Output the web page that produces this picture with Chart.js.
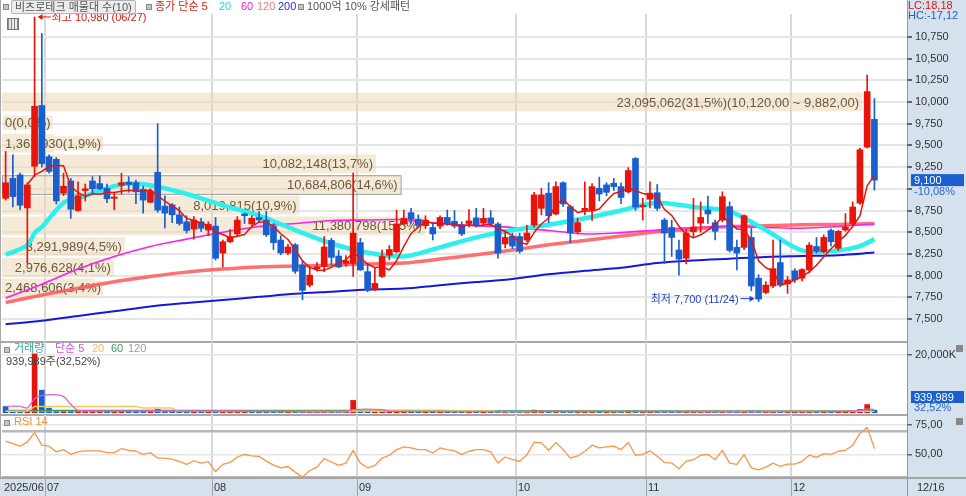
<!DOCTYPE html>
<html lang="ko">
<head>
<meta charset="utf-8">
<title>비츠로테크 일봉</title>
<script src="https://cdn.jsdelivr.net/npm/chart.js@4.4.1/dist/chart.umd.min.js"></script>
<style>
  html, body { margin: 0; padding: 0; background: #fff; }
  body { width: 966px; height: 496px; position: relative; overflow: hidden;
         font-family: "Liberation Sans", "Noto Sans CJK KR", sans-serif; font-size: 11px; }
  canvas { position: absolute; left: 0; }
  .lbl { position: absolute; white-space: nowrap; line-height: 13px; font-size: 11px; }
  .sq { position: absolute; width: 4px; height: 4px; border: 1px solid #8a8a8a; background: #c4c4c4; }
</style>
</head>
<body>
<canvas id="priceChart" width="966" height="341" style="top:0"></canvas>
<canvas id="volChart" width="966" height="73" style="top:341px"></canvas>
<canvas id="rsiChart" width="966" height="82" style="top:414px"></canvas>

<div class="sq" style="left:3px;top:4px"></div>
<div class="lbl" style="left:11px;top:0;height:12px;line-height:12px;padding:0 3px;background:#ececec;border:1px solid #b4b4b4;border-radius:2px;color:#555">비츠로테크 매물대 수(10)</div>
<div class="sq" style="left:146px;top:4px"></div>
<div class="lbl" style="left:155px;top:0;color:#ee1a12">종가 단순 5</div>
<div class="lbl" style="left:219px;top:0;color:#2ad6e0">20</div>
<div class="lbl" style="left:241px;top:0;color:#f01ee0">60</div>
<div class="lbl" style="left:257px;top:0;color:#f77a7a">120</div>
<div class="lbl" style="left:278px;top:0;color:#2a2ae6">200</div>
<div class="sq" style="left:298px;top:4px"></div>
<div class="lbl" style="left:307px;top:0;color:#555">1000억 10% 강세패턴</div>
<div style="position:absolute;left:7px;top:18px;width:10px;height:10px;border:1px solid #777;background:repeating-linear-gradient(90deg,#888 0 1px,#e8e8e8 1px 3px)"></div>

<div class="sq" style="left:4px;top:347px"></div>
<div class="lbl" style="left:14px;top:342px;color:#3aa5a5">거래량</div>
<div class="lbl" style="left:55px;top:342px;color:#e050e0">단순 5</div>
<div class="lbl" style="left:92px;top:342px;color:#f0c050">20</div>
<div class="lbl" style="left:111px;top:342px;color:#3c9a5c">60</div>
<div class="lbl" style="left:128px;top:342px;color:#9a9a9a">120</div>
<div class="lbl" id="volInfo" style="left:6px;top:355px;color:#444"></div>
<div class="sq" style="left:956px;top:345px;width:5px;height:5px;background:#888"></div>

<div class="sq" style="left:4px;top:420px"></div>
<div class="lbl" style="left:14px;top:415px;color:#ff8a3a">RSI 14</div>
<div class="sq" style="left:956px;top:418px;width:5px;height:5px;background:#888"></div>

<div class="lbl" id="lcText" style="left:908px;top:-1px;color:#e8140a"></div>
<div class="lbl" id="hcText" style="left:908px;top:9px;color:#1a5fd0"></div>

<script>
// trading days shown in the chart
const junDays = [23, 24, 25, 26, 27, 30];
const julDays = [1, 2, 3, 4, 7, 8, 9, 10, 11, 14, 15, 16, 17, 18, 21, 22, 23, 24, 25, 28, 29, 30, 31];
const augDays = [1, 4, 5, 6, 7, 8, 11, 12, 13, 14, 18, 19, 20, 21, 22, 25, 26, 27, 28, 29];
const sepDays = [1, 2, 3, 4, 5, 8, 9, 10, 11, 12, 15, 16, 17, 18, 19, 22, 23, 24, 25, 26, 29, 30];
const octDays = [1, 2, 10, 13, 14, 15, 16, 17, 20, 21, 22, 23, 24, 27, 28, 29, 30, 31];
const novDays = [3, 4, 5, 6, 7, 10, 11, 12, 13, 14, 17, 18, 19, 20, 21, 24, 25, 26, 27, 28];
const decDays = [1, 2, 3, 4, 5, 8, 9, 10, 11, 12, 15, 16];

const opens = [
  8890, 9120, 9160, 8780, 9260, 9960, 9370, 9340, 8950, 9090,
  8750, 8980, 9090, 9060, 9005, 8890, 9040, 9075, 9070, 8995,
  8845, 9190, 8800, 8815, 8700, 8620, 8535, 8620, 8525, 8570,
  8260, 8390, 8480, 8710, 8595, 8670, 8640, 8565, 8410, 8260,
  8355, 8120, 7890, 8080, 8105, 8405, 8225, 8140, 8140, 8380,
  8045, 7840, 7990, 8235, 8275, 8595, 8725, 8650, 8575, 8555,
  8570, 8670, 8625, 8585, 8600, 8665, 8605, 8665, 8595, 8365,
  8455, 8450, 8410, 8585, 8775, 8950, 8710, 9070, 8795, 8505,
  8750, 8755, 9005, 9045, 9065, 9025, 8965, 9350, 8795, 8880,
  8955, 8640, 8555, 8295, 8200, 8505, 8605, 8755, 8610, 8640,
  8795, 8325, 8325, 8440, 7970, 7805, 7880, 8150, 7905, 8055,
  7970, 8065, 8335, 8275, 8520, 8315, 8525, 8600, 8835, 9480,
  9800];
const highs = [
  9430, 9390, 9180, 9070, 10980, 10790, 9390, 9360, 9180, 9120,
  9080, 9055, 9140, 9150, 9055, 8950, 9180, 9140, 9100, 9030,
  9000, 9750, 8920, 8830, 8790, 8690, 8680, 8660, 8620, 8670,
  8410, 8530, 8680, 8720, 8690, 8740, 8740, 8600, 8460, 8360,
  8370, 8170, 8105, 8150, 8450, 8430, 8290, 8230, 9180, 8430,
  8140, 8085, 8295, 8345, 8755, 8755, 8775, 8700, 8690, 8600,
  8690, 8755, 8750, 8620, 8760, 8775, 8775, 8750, 8610, 8520,
  8490, 8490, 8580, 8960, 9005, 9070, 9080, 9080, 8810, 8660,
  9080, 9060, 9135, 9070, 9120, 9070, 9245, 9360, 8890, 9080,
  9050, 8660, 8640, 8410, 8530, 8890, 8850, 8915, 8640, 8965,
  8850, 8410, 8700, 8545, 8010, 7930, 8410, 8410, 7990, 8080,
  8080, 8380, 8440, 8470, 8540, 8520, 8715, 8850, 9470, 10310,
  10040];
const lows = [
  8870, 8790, 8760, 8140, 9140, 9250, 9180, 8825, 8920, 8660,
  8740, 8860, 8950, 8990, 8840, 8760, 8940, 8960, 8830, 8720,
  8840, 8730, 8550, 8610, 8580, 8490, 8420, 8510, 8460, 8180,
  8100, 8380, 8460, 8600, 8580, 8620, 8450, 8300, 8240, 8240,
  8025, 7720, 7870, 8050, 8045, 8120, 8090, 8110, 7990, 8060,
  7815, 7830, 7980, 8180, 8260, 8590, 8600, 8555, 8540, 8410,
  8540, 8580, 8550, 8460, 8560, 8560, 8580, 8570, 8200, 8320,
  8310, 8260, 8390, 8560, 8700, 8610, 8700, 8795, 8380, 8480,
  8700, 8635, 8860, 8920, 8980, 8830, 8950, 8750, 8640, 8780,
  8750, 8140, 8220, 8005, 8135, 8440, 8500, 8600, 8410, 8620,
  8270, 8065, 8300, 7825, 7700, 7790, 7860, 7870, 7795, 7920,
  7940, 8030, 8260, 8260, 8340, 8290, 8510, 8580, 8820, 9470,
  8985];
const closes = [
  9070, 8910, 8810, 9045, 9950, 9290, 9200, 8860, 9030, 8765,
  8920, 9000, 9000, 9000, 8885, 8905, 9070, 9050, 8965, 8870,
  8975, 8755, 8720, 8700, 8600, 8520, 8640, 8545, 8590, 8200,
  8390, 8450, 8640, 8690, 8660, 8640, 8470, 8380, 8260, 8330,
  8050, 7830, 8005, 8100, 8330, 8210, 8100, 8170, 8490, 8065,
  7830, 7910, 8220, 8300, 8595, 8660, 8650, 8580, 8640, 8480,
  8670, 8600, 8570, 8480, 8630, 8580, 8660, 8600, 8260, 8440,
  8340, 8280, 8490, 8930, 8930, 8690, 9025, 8825, 8490, 8610,
  8775, 9025, 8940, 8960, 9025, 8900, 9210, 8790, 8810, 8950,
  8775, 8490, 8440, 8190, 8490, 8560, 8670, 8710, 8510, 8910,
  8290, 8260, 8690, 7880, 7730, 7890, 8080, 7890, 7950, 7950,
  8070, 8350, 8280, 8440, 8390, 8510, 8560, 8790, 9450, 10120,
  9100];
const volumes = [
  2200000, 650000, 520000, 880000, 20200000, 7800000, 1650000, 820000, 700000, 900000,
  640000, 560000, 610000, 520000, 700000, 480000, 650000, 560000, 620000, 720000,
  560000, 1250000, 780000, 640000, 690000, 720000, 650000, 540000, 500000, 880000,
  700000, 560000, 620000, 480000, 450000, 430000, 460000, 420000, 400000, 330000,
  520000, 560000, 380000, 300000, 480000, 380000, 330000, 290000, 4300000, 900000,
  620000, 420000, 560000, 400000, 700000, 520000, 440000, 380000, 360000, 410000,
  380000, 400000, 320000, 350000, 420000, 360000, 340000, 300000, 640000, 380000,
  330000, 360000, 340000, 980000, 700000, 620000, 650000, 520000, 560000, 380000,
  520000, 600000, 440000, 360000, 320000, 350000, 680000, 720000, 400000, 420000,
  380000, 620000, 480000, 560000, 520000, 560000, 440000, 420000, 380000, 560000,
  600000, 440000, 560000, 720000, 640000, 380000, 520000, 460000, 320000, 300000,
  280000, 520000, 340000, 420000, 360000, 400000, 380000, 600000, 1200000, 2890500,
  939989];
const prevClose0 = 9180;

// 종가 단순 5
const ma5 = [
  null, null, null, 9050, 9157, 9201, 9259, 9269, 9266, 9029,
  8955, 8915, 8943, 8937, 8961, 8958, 8972, 8982, 8975, 8972,
  8986, 8923, 8857, 8804, 8750, 8659, 8636, 8601, 8579, 8499,
  8473, 8435, 8454, 8474, 8566, 8616, 8620, 8568, 8482, 8416,
  8298, 8170, 8095, 8063, 8063, 8095, 8149, 8182, 8260, 8207,
  8131, 8093, 8103, 8065, 8171, 8337, 8485, 8557, 8625, 8602,
  8604, 8594, 8592, 8560, 8590, 8572, 8584, 8590, 8546, 8508,
  8460, 8384, 8362, 8496, 8594, 8664, 8813, 8880, 8792, 8728,
  8745, 8745, 8768, 8862, 8945, 8970, 9007, 8977, 8947, 8932,
  8907, 8763, 8693, 8569, 8477, 8434, 8470, 8524, 8588, 8672,
  8618, 8536, 8532, 8406, 8170, 8090, 8054, 7894, 7908, 7952,
  7988, 8042, 8120, 8218, 8306, 8394, 8464, 8566, 8690, 9036,
  9154];
// longer averages at [day index, price]
const ma20Pts = [[0, 8240], [3, 8350], [4, 8490], [5, 8560], [8, 8840], [10, 8890], [15, 9030], [17, 9060],
  [20, 9040], [25, 8940], [30, 8810], [35, 8690], [40, 8525], [45, 8370], [50, 8265], [55, 8220],
  [60, 8325], [65, 8440], [70, 8525], [75, 8585], [80, 8660], [85, 8750], [90, 8840], [95, 8790],
  [100, 8740], [105, 8525], [110, 8290], [115, 8290], [118, 8340], [120, 8420]];
const ma60Pts = [[0, 7740], [5, 7900], [10, 8075], [15, 8220], [20, 8335], [25, 8420], [30, 8500],
  [35, 8565], [40, 8600], [45, 8635], [50, 8640], [55, 8645], [60, 8600], [65, 8575], [70, 8555],
  [75, 8520], [80, 8480], [85, 8495], [90, 8525], [95, 8555], [100, 8565], [105, 8555], [110, 8545],
  [115, 8565], [120, 8595]];
const ma120Pts = [[0, 7690], [5, 7775], [10, 7855], [15, 7930], [20, 7990], [25, 8040], [30, 8075],
  [35, 8100], [40, 8110], [45, 8120], [50, 8135], [55, 8145], [60, 8190], [65, 8240], [70, 8295],
  [75, 8355], [80, 8405], [85, 8455], [90, 8505], [95, 8535], [100, 8565], [105, 8575], [110, 8585],
  [115, 8590], [120, 8600]];
const ma200Pts = [[0, 7440], [5, 7480], [10, 7535], [15, 7590], [20, 7645], [25, 7685], [30, 7720],
  [35, 7755], [40, 7790], [45, 7815], [50, 7840], [55, 7850], [60, 7890], [65, 7925], [70, 7960],
  [75, 8015], [80, 8055], [85, 8090], [90, 8145], [95, 8175], [100, 8195], [105, 8215], [110, 8225],
  [115, 8235], [120, 8265]];

// volume averages
const volMa5Pts = [[0, 2300000], [2, 2300000], [3, 1700000], [4, 4900000], [5, 6000000], [7, 6200000],
  [8, 5600000], [9, 3000000], [10, 900000], [20, 700000], [30, 650000], [40, 450000], [47, 400000],
  [48, 1200000], [52, 1200000], [53, 550000], [72, 420000], [73, 560000], [90, 450000], [110, 420000],
  [117, 650000], [119, 1300000], [120, 1200000]];
const volMa20Pts = [[0, 600000], [3, 650000], [4, 2200000], [18, 2200000], [19, 1700000], [23, 1700000],
  [24, 550000], [47, 500000], [48, 700000], [67, 700000], [68, 480000], [120, 560000]];
const volMa60Pts = [[0, 900000], [60, 900000], [64, 760000], [120, 700000]];
const volMa120Pts = [[0, 650000], [120, 600000]];

const rsi = [
  61.2, 59.2, 56.9, 60.6, 68.4, 57.8, 56.9, 52.0, 54.0, 50.0,
  52.0, 52.9, 52.9, 52.9, 51.4, 51.4, 54.9, 53.4, 52.6, 50.0,
  51.4, 46.8, 46.8, 45.7, 44.0, 41.4, 44.5, 42.5, 43.7, 35.3,
  41.4, 43.1, 47.7, 50.0, 48.6, 48.3, 44.2, 40.8, 38.5, 39.6,
  34.8, 30.5, 36.2, 39.1, 46.3, 43.4, 40.5, 42.5, 53.4, 42.5,
  38.5, 40.5, 46.8, 49.2, 54.0, 56.3, 55.4, 54.0, 54.0, 51.1,
  55.4, 54.0, 52.9, 50.0, 52.6, 54.0, 54.0, 52.0, 42.5, 47.7,
  45.7, 44.0, 49.7, 60.1, 60.0, 53.4, 60.0, 54.0, 46.8, 48.6,
  52.6, 57.8, 55.4, 56.3, 56.9, 54.0, 60.1, 49.2, 50.0, 52.9,
  48.3, 43.1, 42.5, 37.6, 44.2, 45.4, 49.2, 50.0, 45.4, 53.4,
  42.5, 41.4, 49.7, 38.5, 36.8, 39.1, 42.5, 39.6, 41.7, 41.7,
  44.0, 49.2, 47.4, 50.6, 50.0, 52.6, 53.4, 57.8, 67.8, 73.0,
  54.9];

// 매물대 (10 price bands)
const bandPrices = [7740, 7978, 8216, 8454, 8692, 8930, 9168, 9406, 9644, 9882, 10120];
const bandVolumes = [2468606, 2976628, 3291989, 11380798, 8019815, 10684806, 10082148, 1362930, 0, 23095062];
const bandPcts = [3.4, 4.1, 4.5, 15.5, 10.9, 14.6, 13.7, 1.9, 0.0, 31.5];

const priceTicks = [7500, 7750, 8000, 8250, 8500, 8750, 9000, 9250, 9500, 9750, 10000, 10250, 10500, 10750];
const volTicks = [20000000];
const rsiTicks = [30, 50, 70, 75];

const dates = [];
[['2025/06', junDays], ['2025/07', julDays], ['2025/08', augDays], ['2025/09', sepDays],
 ['2025/10', octDays], ['2025/11', novDays], ['2025/12', decDays]].forEach(([m, days]) => {
  days.forEach(d => dates.push(m + '/' + String(d).padStart(2, '0')));
});
const labels = dates.concat(['', '', '', '']);

const UP = '#e8140a', DOWN = '#1a5fd0', STRIP = '#d6e1ee';
const FONT = '"Liberation Sans", "Noto Sans CJK KR", sans-serif';
Chart.defaults.font.family = FONT;
Chart.defaults.font.size = 11;
Chart.defaults.color = '#333';
Chart.defaults.elements.point.radius = 0;
Chart.defaults.elements.line.borderJoinStyle = 'round';

const lastClose = closes[closes.length - 1];
const prevClose = closes[closes.length - 2];
const lastVol = volumes[volumes.length - 1];
const prevVol = volumes[volumes.length - 2];
const comma = v => v.toFixed(2).replace('.', ',');
const candleColors = opens.map((o, i) => closes[i] >= o ? UP : DOWN);
const volColors = closes.map((c, i) => c >= (i ? closes[i - 1] : prevClose0) ? UP : DOWN);
const pts = arr => arr.map(([i, v]) => ({x: dates[i], y: v}));

function isMonthStart(i) {
  return i > 0 && i < dates.length && dates[i].slice(0, 7) !== dates[i - 1].slice(0, 7);
}

function xScale() {
  return {
    type: 'category', labels, offset: true,
    ticks: {display: false, autoSkip: false},
    grid: {offset: true, drawTicks: false, lineWidth: 2,
      color: c => isMonthStart(c.index) ? '#d9d9d9' : 'rgba(0,0,0,0)'},
    border: {display: false}
  };
}

function fitRight(s) {
  s.width = 59;
  s.paddingTop = 0;
  s.paddingBottom = 0;
}

function frame(topLine) {
  return {
    id: 'frame',
    beforeDraw(chart) {
      const {ctx, chartArea: a, width, height} = chart;
      ctx.save();
      ctx.fillStyle = STRIP;
      ctx.fillRect(a.right, 0, width - a.right, height);
      ctx.fillStyle = '#8f99a6';
      ctx.fillRect(a.right, 0, 1, height);
      ctx.fillStyle = '#a8a8a8';
      ctx.fillRect(0, 0, 1, height);
      if (topLine) ctx.fillRect(0, 0, a.right, 2);
      ctx.restore();
    }
  };
}

// price panel
const bandPlugin = {
  id: 'bands',
  beforeDatasetsDraw(chart) {
    const {ctx, chartArea: a, scales: {y, xp}} = chart;
    const maxPct = Math.max(...bandPcts);
    ctx.save();
    ctx.beginPath();
    ctx.rect(a.left, a.top, a.right - a.left, a.bottom - a.top);
    ctx.clip();
    ctx.font = '13px ' + FONT;
    ctx.textBaseline = 'middle';
    for (let k = 0; k < bandVolumes.length; k++) {
      const yTop = y.getPixelForValue(bandPrices[k + 1]) + 1;
      const yBot = y.getPixelForValue(bandPrices[k]) - 1;
      const x0 = xp.getPixelForValue(0);
      const x1 = xp.getPixelForValue(bandPcts[k]);
      ctx.fillStyle = 'rgba(236,212,175,0.5)';
      ctx.fillRect(x0, yTop, x1 - x0, yBot - yTop);
      if (lastClose >= bandPrices[k] && lastClose < bandPrices[k + 1]) {
        ctx.strokeStyle = '#9c9c9c';
        ctx.lineWidth = 1;
        ctx.strokeRect(x0 + 0.5, yTop + 0.5, x1 - x0, yBot - yTop);
      }
      let txt = bandVolumes[k].toLocaleString('en-US') + '(' + bandPcts[k].toFixed(1).replace('.', ',') + '%)';
      if (bandPcts[k] === maxPct) {
        txt += '(' + bandPrices[k + 1].toLocaleString('en-US') + ',00 ~ ' + bandPrices[k].toLocaleString('en-US') + ',00)';
      }
      const w = ctx.measureText(txt).width;
      const tx = Math.max(x0 + 3, x1 - w - 3);
      const yc = (yTop + yBot) / 2;
      if (tx + w > x1) {
        ctx.fillStyle = 'rgba(236,212,175,0.5)';
        ctx.fillRect(Math.max(x1, tx - 2), yc - 7, tx + w + 2 - Math.max(x1, tx - 2), 14);
      }
      ctx.fillStyle = '#6b5a3c';
      ctx.fillText(txt, tx, yc + 1);
    }
    ctx.restore();
  },
  afterDraw(chart) {
    const {ctx, chartArea: a, scales: {x, y}} = chart;
    ctx.save();
    ctx.font = '11px ' + FONT;
    ctx.textBaseline = 'middle';
    // highest / lowest marks
    const hi = Math.max(...highs), hiIdx = highs.indexOf(hi);
    const lo = Math.min(...lows), loIdx = lows.indexOf(lo);
    const xh = x.getPixelForValue(hiIdx) + 3, yh = y.getPixelForValue(hi);
    ctx.fillStyle = ctx.strokeStyle = UP;
    ctx.lineWidth = 1;
    ctx.beginPath(); ctx.moveTo(xh + 2, yh); ctx.lineTo(xh + 13, yh); ctx.stroke();
    ctx.beginPath(); ctx.moveTo(xh, yh); ctx.lineTo(xh + 5, yh - 3); ctx.lineTo(xh + 5, yh + 3); ctx.fill();
    ctx.textAlign = 'left';
    ctx.fillText('최고 ' + hi.toLocaleString('en-US') + ' (' + dates[hiIdx].slice(5) + ')', xh + 14, yh + 1);
    const xl = x.getPixelForValue(loIdx) - 4, yl = y.getPixelForValue(lo) - 3;
    ctx.fillStyle = ctx.strokeStyle = '#1c3fe0';
    ctx.beginPath(); ctx.moveTo(xl - 14, yl); ctx.lineTo(xl - 2, yl); ctx.stroke();
    ctx.beginPath(); ctx.moveTo(xl, yl); ctx.lineTo(xl - 5, yl - 3); ctx.lineTo(xl - 5, yl + 3); ctx.fill();
    ctx.textAlign = 'right';
    ctx.fillText('최저 ' + lo.toLocaleString('en-US') + ' (' + dates[loIdx].slice(5) + ')', xl - 16, yl + 1);
    // current price marker
    const yc = y.getPixelForValue(lastClose);
    ctx.fillStyle = DOWN;
    ctx.fillRect(a.right + 4, yc - 6, 53, 12);
    ctx.fillStyle = '#fff';
    ctx.textAlign = 'left';
    ctx.fillText(lastClose.toLocaleString('en-US'), a.right + 7, yc + 0.5);
    ctx.fillStyle = '#2a64d4';
    ctx.fillText(comma((lastClose / prevClose - 1) * 100) + '%', a.right + 7, yc + 12);
    ctx.restore();
  }
};

new Chart(document.getElementById('priceChart'), {
  type: 'bar',
  data: {
    labels,
    datasets: [
      {type: 'line', data: pts(ma200Pts), borderColor: '#1717e0', borderWidth: 2, tension: 0.3, order: 10},
      {type: 'line', data: pts(ma120Pts), borderColor: 'rgba(255,88,88,0.85)', borderWidth: 3.5, tension: 0.3, order: 9},
      {type: 'line', data: pts(ma60Pts), borderColor: '#ff1ff0', borderWidth: 1.6, tension: 0.3, order: 8},
      {type: 'line', data: pts(ma20Pts), borderColor: '#2cf0ee', borderWidth: 4.5, tension: 0.3, order: 7},
      {data: highs.map((h, i) => [lows[i], h]), backgroundColor: candleColors, barThickness: 1, grouped: false, order: 3},
      {data: opens.map((o, i) => [o, closes[i]]), backgroundColor: candleColors, barThickness: 6,
        minBarLength: 1, grouped: false, order: 2},
      {type: 'line', data: ma5, borderColor: UP, borderWidth: 1.5, order: 1}
    ]
  },
  options: {
    responsive: false, animation: false, events: [],
    layout: {padding: {top: 14, bottom: 1, left: 2, right: 0}},
    plugins: {legend: {display: false}, tooltip: {enabled: false}},
    scales: {
      x: xScale(),
      // invisible axis for the band widths (share of volume, %)
      xp: {type: 'linear', display: true, offset: false, min: 0, max: 33.15,
        ticks: {display: false}, grid: {display: false, drawTicks: false, offset: false}, border: {display: false}},
      y: {
        position: 'right', min: 7258, max: 11014,
        afterBuildTicks: s => { s.ticks = priceTicks.map(v => ({value: v})); },
        afterFit: fitRight,
        ticks: {padding: 3, callback: v => Math.abs(v - lastClose) < 150 ? '' : v.toLocaleString('en-US')},
        grid: {color: '#e6e6e6', lineWidth: 2, tickColor: '#666', tickLength: 5},
        border: {display: false}
      }
    }
  },
  plugins: [frame(false), bandPlugin]
});

// volume panel
const volMarker = {
  id: 'volMarker',
  afterDraw(chart) {
    const {ctx, chartArea: a, scales: {y}} = chart;
    const yc = Math.min(y.getPixelForValue(lastVol), a.bottom - 16);
    ctx.save();
    ctx.font = '11px ' + FONT;
    ctx.textBaseline = 'middle';
    ctx.fillStyle = DOWN;
    ctx.fillRect(a.right + 4, yc - 6, 53, 12);
    ctx.fillStyle = '#fff';
    ctx.fillText(lastVol.toLocaleString('en-US'), a.right + 7, yc + 0.5);
    ctx.fillStyle = '#2a64d4';
    ctx.fillText(comma(lastVol / prevVol * 100) + '%', a.right + 7, yc + 11);
    ctx.restore();
  }
};

new Chart(document.getElementById('volChart'), {
  type: 'bar',
  data: {
    labels,
    datasets: [
      {type: 'line', data: pts(volMa120Pts), borderColor: '#a8a8a8', borderWidth: 1, order: 9},
      {type: 'line', data: pts(volMa60Pts), borderColor: '#3c9a5c', borderWidth: 1.2, order: 8},
      {type: 'line', data: pts(volMa20Pts), borderColor: '#f2c75c', borderWidth: 1.4, order: 7},
      {type: 'line', data: pts(volMa5Pts), borderColor: '#e455e4', borderWidth: 1.2, tension: 0.2, order: 6},
      {data: volumes, backgroundColor: volColors, barThickness: 5, grouped: false, order: 10}
    ]
  },
  options: {
    responsive: false, animation: false, events: [],
    layout: {padding: {top: 1, bottom: 1, left: 2, right: 0}},
    plugins: {legend: {display: false}, tooltip: {enabled: false}},
    scales: {
      x: xScale(),
      y: {
        position: 'right', min: 0, max: 24270000,
        afterBuildTicks: s => { s.ticks = volTicks.map(v => ({value: v})); },
        afterFit: fitRight,
        ticks: {padding: 3, callback: v => (v / 1000).toLocaleString('en-US') + 'K'},
        grid: {color: '#e6e6e6', lineWidth: 1.5, tickColor: '#666', tickLength: 5},
        border: {display: false}
      }
    }
  },
  plugins: [frame(true), volMarker]
});

// RSI panel + date strip
const dateStrip = {
  id: 'dateStrip',
  afterDraw(chart) {
    const {ctx, chartArea: a, width, height, scales: {x}} = chart;
    const top = a.bottom;
    const slot = x.getPixelForValue(1) - x.getPixelForValue(0);
    ctx.save();
    ctx.fillStyle = STRIP;
    ctx.fillRect(0, top, width, height - top);
    ctx.fillStyle = '#a4a4a4';
    ctx.fillRect(0, top - 1, width, 2);
    ctx.font = '11px ' + FONT;
    ctx.textBaseline = 'middle';
    ctx.textAlign = 'left';
    ctx.fillStyle = '#333';
    ctx.fillText(dates[0].slice(0, 7), a.left + 2, top + 9.5);
    for (let i = 1; i < dates.length; i++) {
      if (!isMonthStart(i)) continue;
      const xg = Math.round(x.getPixelForValue(i) - slot / 2);
      ctx.fillStyle = '#9aa3ae';
      ctx.fillRect(xg, top, 1, height - top);
      ctx.fillStyle = '#333';
      ctx.fillText(dates[i].slice(5, 7), xg + 2, top + 9.5);
    }
    ctx.fillStyle = '#8f99a6';
    ctx.fillRect(a.right, top, 1, height - top);
    ctx.fillStyle = '#333';
    ctx.fillText(dates[dates.length - 1].slice(5), a.right + 10, top + 9.5);
    ctx.restore();
  }
};

const isBandLine = v => v === 30 || v === 70;
new Chart(document.getElementById('rsiChart'), {
  type: 'line',
  data: {
    labels,
    datasets: [{data: rsi, borderColor: '#ff9445', borderWidth: 1.3}]
  },
  options: {
    responsive: false, animation: false, events: [],
    layout: {padding: {top: 1, bottom: 18, left: 2, right: 0}},
    plugins: {legend: {display: false}, tooltip: {enabled: false}},
    scales: {
      x: xScale(),
      y: {
        position: 'right', min: 29.78, max: 83.53,
        afterBuildTicks: s => { s.ticks = rsiTicks.map(v => ({value: v})); },
        afterFit: fitRight,
        ticks: {padding: 3, callback: v => isBandLine(v) ? '' : comma(v)},
        grid: {
          color: c => isBandLine(c.tick.value) ? '#b8b8b8' : '#e6e6e6',
          lineWidth: c => isBandLine(c.tick.value) ? 2.5 : 1.5,
          tickColor: c => isBandLine(c.tick.value) ? 'rgba(0,0,0,0)' : '#666',
          tickLength: 5
        },
        border: {display: false}
      }
    }
  },
  plugins: [frame(true), dateStrip]
});

// header texts from the data
document.getElementById('volInfo').textContent =
  lastVol.toLocaleString('en-US') + '주(' + comma(lastVol / prevVol * 100) + '%)';
document.getElementById('lcText').textContent =
  'LC:' + comma((lastClose / Math.min(...lows) - 1) * 100);
document.getElementById('hcText').textContent =
  'HC:' + comma((lastClose / Math.max(...highs) - 1) * 100);
</script>
</body>
</html>
